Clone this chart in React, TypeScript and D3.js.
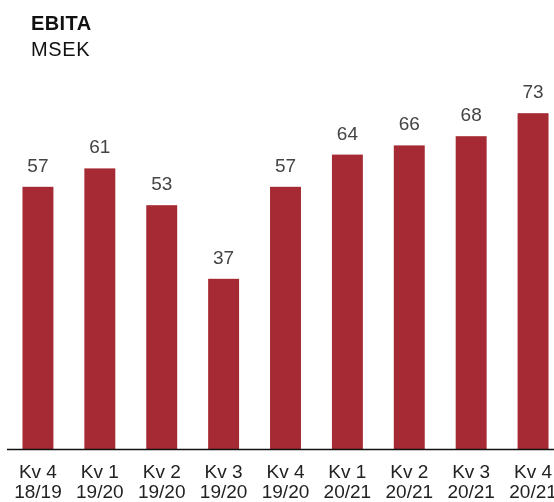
import React from 'react';
import * as d3 from 'd3';

const width = 554;
const height = 502;
const baseline = 449;

const quarters = ['Kv 4', 'Kv 1', 'Kv 2', 'Kv 3', 'Kv 4', 'Kv 1', 'Kv 2', 'Kv 3', 'Kv 4'];
const years = ['18/19', '19/20', '19/20', '19/20', '19/20', '20/21', '20/21', '20/21', '20/21'];
const ebita = [57, 61, 53, 37, 57, 64, 66, 68, 73];

const barColor = '#a52a33';
const font = '"Liberation Sans", Arial, sans-serif';

export default function App() {
  const idx = ebita.map((_, i) => i);
  const x = d3.scaleBand<number>().domain(idx).range([7, 564]).paddingInner(0.5).paddingOuter(0.25);
  const y = d3.scaleLinear().domain([0, 80]).range([baseline, baseline - 368]);

  return (
    <div style={{ position: 'fixed', left: 0, top: 0 }}>
      <svg width={width} height={height} style={{ display: 'block' }} fontFamily={font}>
        <text x={31} y={30} fontSize={20} fontWeight="bold" letterSpacing={0.4} fill="#111">EBITA</text>
        <text x={31} y={56} fontSize={20} letterSpacing={0.6} fill="#111">MSEK</text>
        {ebita.map((v, i) => (
          <g key={i}>
            <rect x={x(i)} y={y(v)} width={x.bandwidth()} height={baseline - y(v)} fill={barColor} />
            <text x={(x(i) as number) + x.bandwidth() / 2} y={y(v) - 15} textAnchor="middle" fontSize={19} fill="#444">{v}</text>
            <text x={(x(i) as number) + x.bandwidth() / 2} y={478} textAnchor="middle" fontSize={19} fill="#222">{quarters[i]}</text>
            <text x={(x(i) as number) + x.bandwidth() / 2} y={497.5} textAnchor="middle" fontSize={19} fill="#222">{years[i]}</text>
          </g>
        ))}
        <line x1={7} x2={width} y1={baseline + 0.5} y2={baseline + 0.5} stroke="#111" strokeWidth={1.3} />
      </svg>
    </div>
  );
}
